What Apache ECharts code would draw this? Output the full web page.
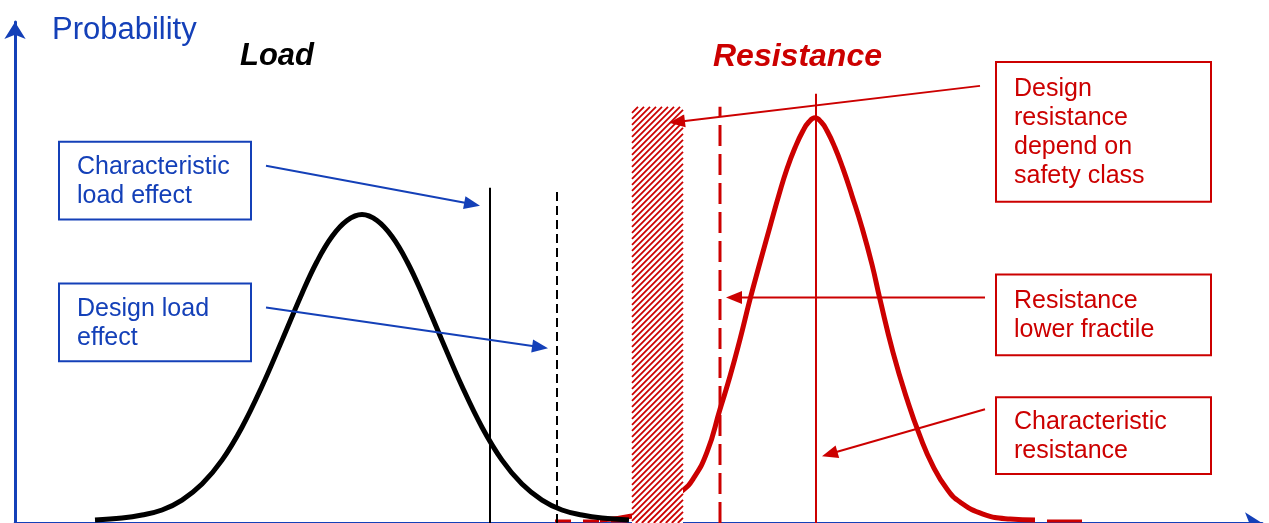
<!DOCTYPE html>
<html><head><meta charset="utf-8">
<script src="https://cdn.jsdelivr.net/npm/echarts@6/dist/echarts.min.js"></script>
<style>html,body{margin:0;padding:0;background:#fff;overflow:hidden}#c{width:1269px;height:523px}</style>
</head><body><div id="c"></div>
<script>
// ---- data (schematic units: x = effect / resistance, y = probability density) ----
const loadX = [80,107,127,147,167,187,207,227,247,267,287,302,317,332,347,362,377,392,407,427,447,467,487,507,527,547,567,587,614];
const loadY = [3,5,8,13,23,39,63,96,137,183,230,262,287,303,309,303,287,262,230,183,137,96,63,39,23,13,8,5,3];
const resistanceX = [585,617,645,667,678,692,705,715,725,735,745,755,764,772,780,788,794,800,806,812,820,828,837,847,857,865,878,892,905,918,932,945,968,995,1020];
const resistanceY = [3,7,17,32,44,71,114,147,184,224,261,297,329,355,376,393,402,406,402,393,376,355,328,296,259,224,171,124,87,57,34,21,9,4,3];
const resistanceTailLeft = [540, 620];
const resistanceTailRight = [1032, 1075];
const characteristicLoadEffect = 475;
const designLoadEffect = 542;
const designResistanceBand = [617, 668];
const resistanceLowerFractile = 705;
const characteristicResistance = 801;
const loadMarkerTop = 336;
const resistanceMarkerTop = 417;
const characteristicResistanceTop = 430;
const loadLabels = ['Characteristic\nload effect', 'Design load\neffect'];
const resistanceLabels = ['Design\nresistance\ndepend on\nsafety class', 'Resistance\nlower fractile', 'Characteristic\nresistance'];
const titleTexts = ['Probability', 'Load', 'Resistance'];

const BLUE = '#1440b8', RED = '#cc0000';
const FONT = "Arial, 'Liberation Sans', sans-serif";

// annotation geometry (data coords)
const loadBoxes = [[44, 382, 236, 304], [44, 240, 236, 162]];
const resBoxes = [[981, 462, 1196, 322], [981, 249, 1196, 168], [981, 126, 1196, 49]];
const loadArrows = [[251, 358, 465, 318], [251, 216, 533, 175]];
const resArrows = [[965, 438, 654, 401], [970, 226, 711, 226], [970, 114, 807, 67]];

function zip(a, b) { return a.map((v, i) => [v, b[i]]); }

function arrowSeries(rows, color, z) {
  return {
    type: 'custom', coordinateSystem: 'cartesian2d', z: z, clip: false, silent: true,
    data: rows,
    renderItem(params, api) {
      const p1 = api.coord([api.value(0), api.value(1)]);
      const p2 = api.coord([api.value(2), api.value(3)]);
      const dx = p2[0] - p1[0], dy = p2[1] - p1[1], L = Math.hypot(dx, dy);
      const ux = dx / L, uy = dy / L, hl = 16, hw = 6.5;
      const bx = p2[0] - ux * hl, by = p2[1] - uy * hl;
      return { type: 'group', children: [
        { type: 'line', shape: { x1: p1[0], y1: p1[1], x2: bx + ux * 2, y2: by + uy * 2 }, style: { stroke: color, lineWidth: 2 } },
        { type: 'polygon', shape: { points: [[p2[0], p2[1]], [bx - uy * hw, by + ux * hw], [bx + uy * hw, by - ux * hw]] }, style: { fill: color } }
      ] };
    }
  };
}

function boxSeries(rows, labels, color) {
  return {
    type: 'custom', coordinateSystem: 'cartesian2d', z: 6, clip: false, silent: true,
    data: rows,
    renderItem(params, api) {
      const a = api.coord([api.value(0), api.value(1)]);
      const b = api.coord([api.value(2), api.value(3)]);
      return { type: 'group', children: [
        { type: 'rect', shape: { x: a[0], y: a[1], width: b[0] - a[0], height: b[1] - a[1] }, style: { fill: '#fff', stroke: color, lineWidth: 2 } },
        { type: 'text', style: { text: labels[params.dataIndex], x: a[0] + 18, y: (a[1] + b[1]) / 2 + 1, verticalAlign: 'middle', align: 'left', fill: color, font: '25px ' + FONT, lineHeight: 29 } }
      ] };
    }
  };
}

function vline(x, top, color, width, type, z) {
  return { type: 'line', data: [[x, 0], [x, top]], symbol: 'none', silent: true, z: z,
    lineStyle: { color: color, width: width, type: type } };
}
function hline(range, y, color, width, type, z) {
  return { type: 'line', data: [[range[0], y], [range[1], y]], symbol: 'none', silent: true, z: z,
    lineStyle: { color: color, width: width, type: type } };
}

const chart = echarts.init(document.getElementById('c'));
chart.setOption({
  animation: false,
  backgroundColor: '#fff',
  title: [
    { text: titleTexts[0], left: 52, top: 15, padding: 0, textStyle: { color: BLUE, fontSize: 31, fontWeight: 'normal', fontFamily: FONT } },
    { text: titleTexts[1], left: 240, top: 41, padding: 0, textStyle: { color: '#000', fontSize: 31, fontWeight: 'bold', fontStyle: 'italic', fontFamily: FONT } },
    { text: titleTexts[2], left: 713, top: 41, padding: 0, textStyle: { color: RED, fontSize: 32, fontWeight: 'bold', fontStyle: 'italic', fontFamily: FONT } }
  ],
  grid: { left: 15, right: 7, top: 22, bottom: -1, containLabel: false },
  xAxis: { type: 'value', min: 0, max: 1247, splitLine: { show: false }, axisTick: { show: false }, axisLabel: { show: false },
    axisLine: { lineStyle: { color: BLUE, width: 3 }, symbol: ['none', 'arrow'], symbolSize: [16, 17] } },
  yAxis: { type: 'value', min: 0, max: 502, splitLine: { show: false }, axisTick: { show: false }, axisLabel: { show: false },
    axisLine: { lineStyle: { color: BLUE, width: 3 }, symbol: ['none', 'arrow'], symbolSize: [16, 17] } },
  series: [
    hline(resistanceTailLeft, 2, RED, 3, [16, 12], 1),
    hline(resistanceTailRight, 2, RED, 3, [35, 10], 1),
    { type: 'line', data: zip(resistanceX, resistanceY), smooth: 0.5, symbol: 'none', silent: true, z: 2, lineStyle: { color: RED, width: 5 } },
    { type: 'line', data: zip(loadX, loadY), smooth: 0.4, symbol: 'none', silent: true, z: 3, lineStyle: { color: '#000', width: 5 } },
    {
      type: 'custom', coordinateSystem: 'cartesian2d', z: 4, silent: true, clip: false,
      data: [[designResistanceBand[0], designResistanceBand[1], resistanceMarkerTop]],
      renderItem(params, api) {
        const a = api.coord([api.value(0), api.value(2)]);
        const b = api.coord([api.value(1), 0]);
        const x0 = a[0], y0 = a[1], x1 = b[0], y1 = b[1];
        const children = [{ type: 'rect', shape: { x: x0, y: y0, width: x1 - x0, height: y1 - y0 }, style: { fill: '#fff' } }];
        for (let c = x0 + y0; c <= x1 + y1; c += 6) {
          const xa = Math.max(x0, c - y1), xb = Math.min(x1, c - y0);
          if (xb <= xa) continue;
          children.push({ type: 'line', shape: { x1: xa, y1: c - xa, x2: xb, y2: c - xb }, style: { stroke: RED, lineWidth: 1.8 } });
        }
        return { type: 'group', children: children };
      }
    },
    vline(characteristicLoadEffect, loadMarkerTop, '#000', 2, 'solid', 5),
    vline(designLoadEffect, loadMarkerTop, '#000', 2, [9, 5], 5),
    vline(resistanceLowerFractile, resistanceMarkerTop, RED, 3, [21, 8], 5),
    vline(characteristicResistance, characteristicResistanceTop, RED, 2, 'solid', 5),
    arrowSeries(loadArrows, BLUE, 7),
    arrowSeries(resArrows, RED, 7),
    boxSeries(loadBoxes, loadLabels, BLUE),
    boxSeries(resBoxes, resistanceLabels, RED)
  ]
});
</script>
</body></html>
